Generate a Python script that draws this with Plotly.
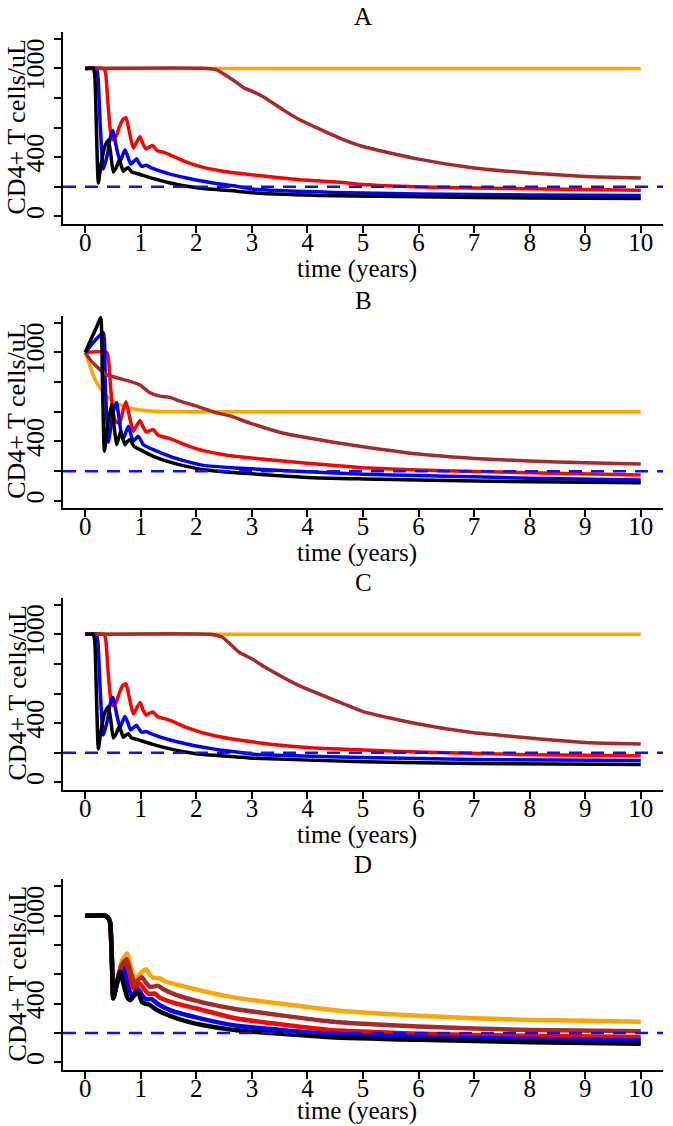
import plotly.graph_objects as go

# ---- panel A ----
a_orange_t = [0, 10]
a_orange_v = [1000, 1000]
a_red_t = [0, 0.34, 0.37, 0.41, 0.46, 0.506, 0.56, 0.62, 0.68, 0.734, 0.8, 0.866, 0.93, 0.986, 1.04, 1.094, 1.16, 1.214, 1.298, 1.406,
           1.526, 1.826, 2.126, 2.426, 2.726, 3.03, 3.87, 4.59, 5, 6, 8, 10]
a_red_v = [1000, 1000, 960, 760, 560, 517, 545, 610, 655, 667, 560, 461, 505, 539, 490, 455, 470, 479, 443, 434,
           416, 367, 331, 309, 293, 280, 248, 230, 215, 199, 186, 176]
a_blue_t = [0, 0.2, 0.23, 0.27, 0.326, 0.4, 0.45, 0.5, 0.56, 0.626, 0.67, 0.716, 0.77, 0.818, 0.87, 0.926, 0.97, 1.016, 1.094, 1.226,
            1.526, 1.826, 2.126, 2.426, 2.726, 3.03, 4.47, 6, 8, 10]
a_blue_v = [1000, 1000, 940, 620, 320, 420, 530, 580, 470, 371, 410, 450, 400, 353, 370, 389, 360, 338, 345, 322,
            286, 259, 237, 219, 204, 183, 162, 152, 145, 141]
a_brown_t = [0, 2.2, 2.37, 2.5, 2.67, 2.85, 3.03, 3.21, 3.57, 3.87, 4.17, 4.59, 5, 6, 7, 8, 9, 10]
a_brown_v = [1000, 1000, 990, 960, 919, 870, 841, 807, 718, 651, 598, 528, 472, 387, 327, 293, 270, 260]
a_black_t = [0, 0.14, 0.17, 0.2, 0.236, 0.28, 0.35, 0.416, 0.46, 0.506, 0.56, 0.614, 0.65, 0.686, 0.73, 0.776, 0.836, 0.93, 1.23, 1.53,
             1.83, 2.13, 2.73, 3.03, 4.47, 6, 8, 10]
a_black_v = [1000, 1000, 960, 620, 226, 340, 470, 517, 420, 300, 330, 383, 340, 304, 320, 331, 300, 290, 255, 226,
             204, 188, 170, 159, 140, 132, 125, 121]

# ---- panel B ----
b_orange_t = [0, 0.086, 0.176, 0.266, 0.386, 0.506, 0.686, 0.926, 1.226, 1.6, 2.5, 10]
b_orange_v = [1000, 908, 818, 761, 705, 667, 638, 615, 604, 601, 600, 600]
b_red_t = [0, 0.386, 0.42, 0.46, 0.5, 0.56, 0.626, 0.68, 0.734, 0.8, 0.866, 0.93, 0.986, 1.04, 1.094, 1.16, 1.226, 1.316, 1.526, 1.826,
           2.126, 2.426, 2.7, 4, 5, 6, 8, 10]
b_red_v = [1000, 1000, 950, 750, 600, 530, 525, 610, 667, 560, 469, 510, 541, 500, 464, 472, 480, 442, 419, 374,
           338, 316, 300, 253, 223, 207, 189, 174]
b_blue_t = [0, 0.1, 0.2, 0.326, 0.36, 0.416, 0.47, 0.52, 0.566, 0.62, 0.674, 0.72, 0.776, 0.82, 0.866, 0.956, 1.046, 1.226, 1.526, 1.826,
            2.126, 2.7, 4, 5, 6, 7, 8, 10]
b_blue_v = [1000, 1045, 1090, 1133, 800, 395, 520, 620, 660, 520, 412, 450, 502, 450, 401, 435, 378, 345, 300, 266,
            239, 222, 196, 180, 170, 162, 152, 140]
b_brown_t = [0, 0.1, 0.206, 0.356, 0.566, 0.806, 0.986, 1.166, 1.346, 1.526, 1.706, 2.006, 2.366, 2.61, 2.97, 3.57, 4.0, 4.47, 5, 6,
             7, 8, 9, 10]
b_brown_v = [1000, 945, 905, 855, 829, 805, 780, 728, 705, 697, 671, 638, 592, 572, 523, 455, 425, 395, 365, 315,
             286, 268, 257, 248]
b_black_t = [0, 0.1, 0.2, 0.278, 0.31, 0.345, 0.4, 0.476, 0.52, 0.566, 0.6, 0.638, 0.68, 0.716, 0.76, 0.806, 0.878, 0.986, 1.226, 1.526,
             1.826, 2.126, 2.7, 4, 5, 6, 8, 10]
b_black_v = [1000, 1085, 1165, 1234, 800, 334, 500, 649, 500, 378, 420, 469, 420, 378, 400, 412, 367, 345, 300, 261,
             232, 210, 190, 158, 148, 140, 128, 122]

# ---- panel C ----
c_orange_t = [0, 10]
c_orange_v = [1000, 1000]
c_red_t = [0, 0.34, 0.37, 0.41, 0.46, 0.506, 0.56, 0.62, 0.68, 0.734, 0.8, 0.866, 0.93, 0.99, 1.04, 1.094, 1.16, 1.22, 1.3, 1.41,
           1.54, 1.83, 2.31, 3.08, 4.0, 5.0, 6.16, 8, 10]
c_red_v = [1000, 1000, 960, 760, 560, 517, 545, 610, 655, 665, 560, 461, 505, 540, 490, 455, 468, 475, 443, 432,
           417, 370, 316, 270, 236, 219, 203, 187, 180]
c_blue_t = [0, 0.2, 0.23, 0.27, 0.326, 0.4, 0.45, 0.5, 0.56, 0.626, 0.67, 0.716, 0.77, 0.818, 0.87, 0.926, 0.97, 1.016, 1.094, 1.226,
            1.526, 1.826, 2.126, 2.426, 2.726, 3.03, 5, 7, 10]
c_blue_v = [1000, 1000, 940, 620, 320, 420, 530, 575, 470, 371, 410, 445, 400, 353, 370, 385, 360, 338, 343, 322,
            286, 259, 237, 219, 205, 190, 168, 155, 147]
c_brown_t = [0, 2.24, 2.47, 2.77, 3.0, 3.24, 3.85, 4.62, 5.0, 6.0, 6.93, 8.0, 9.0, 10]
c_brown_v = [1000, 1000, 980, 878, 834, 777, 653, 535, 478, 394, 338, 300, 270, 259]
c_black_t = [0, 0.14, 0.17, 0.2, 0.236, 0.28, 0.35, 0.416, 0.46, 0.506, 0.56, 0.614, 0.65, 0.686, 0.73, 0.776, 0.836, 0.93, 1.23, 1.53,
             1.83, 2.13, 2.73, 3.03, 5, 7, 10]
c_black_v = [1000, 1000, 960, 620, 226, 340, 470, 510, 420, 300, 330, 380, 340, 304, 318, 328, 300, 290, 255, 226,
             204, 188, 172, 163, 140, 127, 120]

# ---- panel D ----
d_orange_t = [0, 0.356, 0.4, 0.446, 0.48, 0.506, 0.58, 0.67, 0.758, 0.83, 0.896, 1.0, 1.094, 1.16, 1.226, 1.35, 1.45, 1.646, 2.126, 2.726,
              4.41, 5, 6, 7, 8, 9, 10]
d_orange_v = [1000, 1000, 990, 957, 700, 440, 570, 700, 742, 640, 571, 610, 635, 600, 576, 572, 550, 531, 486, 440,
              359, 340, 318, 302, 290, 284, 277]
d_red_t = [0, 0.356, 0.4, 0.446, 0.48, 0.506, 0.56, 0.63, 0.716, 0.79, 0.866, 0.93, 0.986, 1.06, 1.136, 1.256, 1.35, 1.646, 2.126, 2.726,
           4.41, 5, 6, 8, 10]
d_red_v = [1000, 1000, 990, 957, 700, 440, 530, 630, 685, 580, 503, 525, 537, 500, 469, 469, 440, 401, 356, 299,
           222, 211, 195, 182, 173]
d_blue_t = [0, 0.356, 0.4, 0.446, 0.48, 0.506, 0.56, 0.62, 0.686, 0.76, 0.836, 0.9, 0.956, 1.02, 1.094, 1.196, 1.3, 1.526, 2.126, 2.726,
            4.41, 5, 7, 10]
d_blue_v = [1000, 1000, 990, 957, 700, 440, 520, 590, 640, 530, 454, 480, 499, 460, 431, 432, 400, 356, 295, 250,
            195, 186, 166, 150]
d_brown_t = [0, 0.356, 0.4, 0.446, 0.48, 0.506, 0.57, 0.65, 0.746, 0.82, 0.896, 0.96, 1.016, 1.09, 1.166, 1.316, 1.4, 1.646, 2.126, 2.726,
             4.41, 5, 6, 7, 8, 10]
d_brown_v = [1000, 1000, 990, 957, 700, 440, 545, 660, 703, 610, 537, 565, 583, 545, 515, 522, 500, 458, 408, 363,
             279, 263, 245, 231, 222, 213]
d_black_t = [0, 0.356, 0.4, 0.446, 0.48, 0.506, 0.56, 0.626, 0.7, 0.76, 0.81, 0.88, 0.95, 1.02, 1.08, 1.15, 1.29, 1.526, 1.826, 2.126,
             2.726, 4.41, 6, 8, 10]
d_black_v = [1000, 1000, 990, 957, 700, 435, 520, 617, 520, 440, 424, 455, 478, 412, 400, 395, 358, 318, 280, 254,
             220, 172, 154, 138, 127]

threshold = 200
x_ticks = list(range(0, 11))
y_ticks = [0, 200, 400, 600, 800, 1000, 1200]
y_ticktext = ['0', '', '400', '', '', '1000', '']
panel_names = ['A', 'B', 'C', 'D']

colors = {'orange': '#FFA500', 'red': '#FF0000', 'blue': '#0000FF', 'brown': '#A52A2A', 'black': '#000000'}

panels = [
    [('orange', a_orange_t, a_orange_v), ('red', a_red_t, a_red_v), ('blue', a_blue_t, a_blue_v),
     ('brown', a_brown_t, a_brown_v), ('black', a_black_t, a_black_v)],
    [('orange', b_orange_t, b_orange_v), ('red', b_red_t, b_red_v), ('blue', b_blue_t, b_blue_v),
     ('brown', b_brown_t, b_brown_v), ('black', b_black_t, b_black_v)],
    [('orange', c_orange_t, c_orange_v), ('red', c_red_t, c_red_v), ('blue', c_blue_t, c_blue_v),
     ('brown', c_brown_t, c_brown_v), ('black', c_black_t, c_black_v)],
    [('orange', d_orange_t, d_orange_v), ('red', d_red_t, d_red_v), ('blue', d_blue_t, d_blue_v),
     ('brown', d_brown_t, d_brown_v), ('black', d_black_t, d_black_v)],
]

W, H = 673, 1126
FONT = 'Liberation Serif'


def fx(px):
    return px / W


def fy(py):
    return 1 - py / H


x_dom = [fx(63), fx(663)]
tops = [31.7, 315.5, 597.5, 879.3]
bottoms = [223.5, 508, 789.5, 1069.5]
widths = [3.5, 3.5, 3.5, 4.5]
x_range = [-0.4, 10.4]

fig = go.Figure()
annotations = []
layout = {}
for i, series in enumerate(panels):
    sfx = '' if i == 0 else str(i + 1)
    xa, ya = 'x' + sfx, 'y' + sfx
    for name, t, v in series:
        fig.add_trace(go.Scatter(x=t, y=v, mode='lines', xaxis=xa, yaxis=ya,
                                 line=dict(color=colors[name], width=widths[i], shape='spline', smoothing=0.5),
                                 showlegend=False, hoverinfo='skip'))
    fig.add_trace(go.Scatter(x=x_range, y=[threshold, threshold], mode='lines', xaxis=xa, yaxis=ya,
                             line=dict(color='#1010F0', width=2.5, dash='13px,9px'),
                             showlegend=False, hoverinfo='skip'))

    layout['xaxis' + sfx] = dict(domain=x_dom, range=x_range, anchor=ya, tickvals=x_ticks,
                                 showline=True, linecolor='black', linewidth=2, ticks='outside',
                                 ticklen=7, tickwidth=1.5, tickcolor='black', showgrid=False, zeroline=False,
                                 ticklabelstandoff=-12,
                                 tickfont=dict(family=FONT, size=25, color='black'))
    layout['yaxis' + sfx] = dict(domain=[fy(bottoms[i]), fy(tops[i])], range=[-48, 1248], anchor=xa,
                                 tickvals=y_ticks, ticktext=y_ticktext, tickangle=-90,
                                 showline=True, linecolor='black', linewidth=2, ticks='outside',
                                 ticklen=7, tickwidth=1.5, tickcolor='black', showgrid=False, zeroline=False,
                                 tickfont=dict(family=FONT, size=26, color='black'))
    annotations.append(dict(text=panel_names[i], x=fx(363), y=fy(tops[i] - 15),
                            xref='paper', yref='paper', showarrow=False, xanchor='center', yanchor='middle',
                            borderpad=0, font=dict(family=FONT, size=25, color='black')))
    annotations.append(dict(text='time (years)', x=fx(357), y=fy(min(bottoms[i] + 45, H - 15)),
                            xref='paper', yref='paper', showarrow=False, xanchor='center', yanchor='middle',
                            borderpad=0, font=dict(family=FONT, size=25, color='black')))
    annotations.append(dict(text='CD4+ T cells/uL', x=fx(17), y=fy((tops[i] + bottoms[i]) / 2), textangle=-90,
                            xref='paper', yref='paper', showarrow=False, xanchor='center', yanchor='middle',
                            borderpad=0, font=dict(family=FONT, size=26, color='black')))

fig.update_layout(width=W, height=H, margin=dict(l=0, r=0, t=0, b=0),
                  paper_bgcolor='white', plot_bgcolor='white', annotations=annotations, **layout)

# drop the default 8px page margin so the figure sits at the window corner
fig.write_html("out.html", config={'displayModeBar': False},
               post_script="document.body.style.margin = '0';")
